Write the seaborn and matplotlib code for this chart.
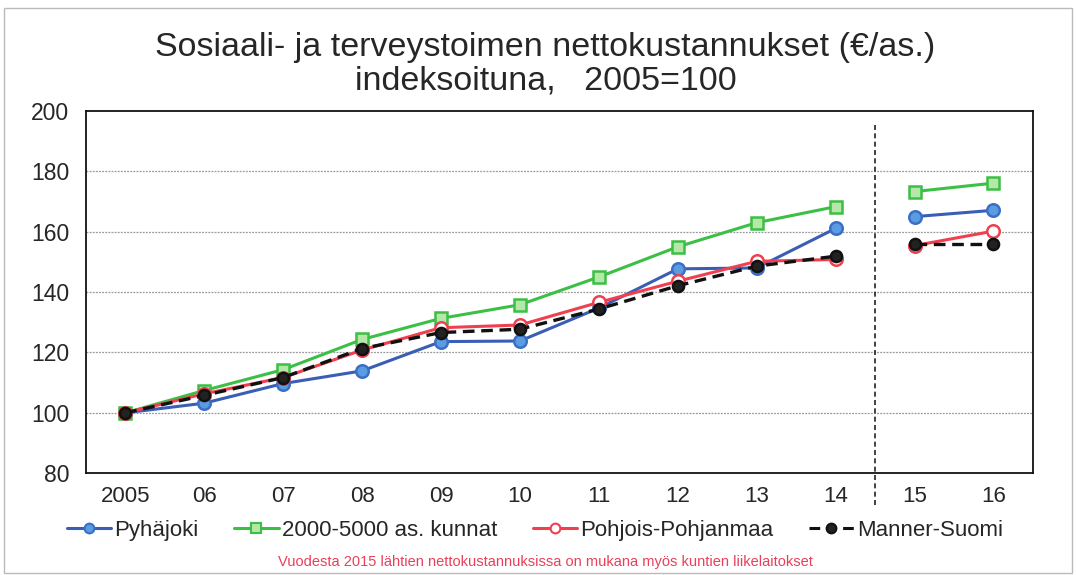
import matplotlib
matplotlib.use("Agg")
import matplotlib.pyplot as plt
import seaborn as sns
import pandas as pd
import numpy as np
from matplotlib.lines import Line2D
from matplotlib.patches import Rectangle

sns.set_style("white")
plt.rcParams['font.family'] = ['Liberation Sans', 'DejaVu Sans']

years = ["2005", "06", "07", "08", "09", "10", "11", "12", "13", "14", "15", "16"]
pyhajoki = [100, 103.2, 109.7, 113.9, 123.6, 123.8, 134.7, 147.7, 148.0, 161.1, 165.0, 167.1]
kunnat = [100, 107.4, 114.3, 124.3, 131.3, 135.8, 145.0, 155.0, 163.0, 168.3, 173.3, 176.1]
pohjois = [100, 106.3, 111.7, 120.8, 128.2, 129.1, 136.6, 143.6, 150.2, 150.8, 155.4, 160.2]
manner = [100, 105.8, 111.7, 121.3, 126.6, 127.7, 134.4, 142.1, 148.6, 151.9, 155.8, 155.8]
series_names = ["Pyhäjoki", "2000-5000 as. kunnat", "Pohjois-Pohjanmaa", "Manner-Suomi"]
footnote = "Vuodesta 2015 lähtien nettokustannuksissa on mukana myös kuntien liikelaitokset"

values = [pyhajoki, kunnat, pohjois, manner]
styles = [
    dict(color="#3A5DB5", marker="o", mfc="#5B9BE0", mec="#3A6FC8", ls="-", lw=2.2, ms=9),
    dict(color="#3CBF45", marker="s", mfc="#B5E8A8", mec="#3CBF45", ls="-", lw=2.2, ms=9),
    dict(color="#F0404F", marker="o", mfc="white", mec="#F0404F", ls="-", lw=2.2, ms=9),
    dict(color="#111111", marker="o", mfc="#222222", mec="#111111", ls=(0, (3.5, 2)), lw=2.4, ms=8),
]

rows = []
for name, vals in zip(series_names, values):
    for i, (y, v) in enumerate(zip(years, vals)):
        rows.append(dict(series=name, x=i, year=y, value=v, segment=0 if i <= 9 else 1))
df = pd.DataFrame(rows)

fig = plt.figure(figsize=(10.76, 5.75), dpi=100)
ax = fig.add_axes([0.0797, 0.177, 0.8803, 0.630])

for name, st in zip(series_names, styles):
    for seg in (0, 1):
        d = df[(df.series == name) & (df.segment == seg)]
        sns.lineplot(data=d, x="x", y="value", ax=ax, color=st["color"], lw=st["lw"],
                     linestyle=st["ls"], marker=st["marker"], markersize=st["ms"],
                     markerfacecolor=st["mfc"], markeredgecolor=st["mec"], markeredgewidth=1.8,
                     legend=False, zorder=3)

ax.set_xlim(-0.5, 11.5)
ax.set_ylim(80, 200)
ax.set_xticks(np.arange(-0.5, 12, 1))
ax.set_xticklabels([])
ax.set_xticks(np.arange(0, 12), minor=True)
ax.set_xticklabels(years, minor=True, fontsize=16)
ax.tick_params(axis="x", which="major", direction="out", length=5, width=1, color="#333333")
ax.tick_params(axis="x", which="minor", length=0, pad=9)
ax.set_yticks(np.arange(80, 201, 20))
ax.set_yticklabels([str(v) for v in range(80, 201, 20)], fontsize=16.5)
ax.set_yticks(np.arange(80, 201, 5), minor=True)
ax.tick_params(axis="y", which="major", direction="out", length=4, width=1, color="#333333", pad=8)
ax.tick_params(axis="y", which="minor", direction="in", length=4, width=0.8, color="#555555")
ax.set_xlabel("")
ax.set_ylabel("")
for yv in range(100, 200, 20):
    ax.axhline(yv, color="#999999", lw=0.9, ls=(0, (1.5, 1)), zorder=1)
for s in ax.spines.values():
    s.set_visible(True)
    s.set_color("#111111")
    s.set_linewidth(1.3)

ax.axvline(9.5, ymin=-0.088, ymax=0.97, color="#222222", lw=1.2, ls=(0, (3, 2)), clip_on=False, zorder=2)

fig.text(0.507, 0.918, "Sosiaali- ja terveystoimen nettokustannukset (€/as.)", ha="center", va="center", fontsize=24.5)
fig.text(0.507, 0.86, "indeksoituna,   2005=100", ha="center", va="center", fontsize=24.5)

handles = [Line2D([0], [0], color=st["color"], lw=2.2, ls=st["ls"], marker=st["marker"],
                  markersize=7, markerfacecolor=st["mfc"], markeredgecolor=st["mec"], markeredgewidth=1.5)
           for st in styles]
fig.legend(handles, series_names, loc="center", bbox_to_anchor=(0.497, 0.078), ncol=4,
           frameon=False, fontsize=16, handlelength=2.0, handletextpad=0.15, columnspacing=1.6)

fig.text(0.507, 0.022, footnote, ha="center", va="center", fontsize=10.5, color="#E8405A")

fig.patches.append(Rectangle((0.004, 0.004), 0.992, 0.982, transform=fig.transFigure,
                             fill=False, edgecolor="#BBBBBB", lw=1))

fig.savefig("out.png", dpi=100)
